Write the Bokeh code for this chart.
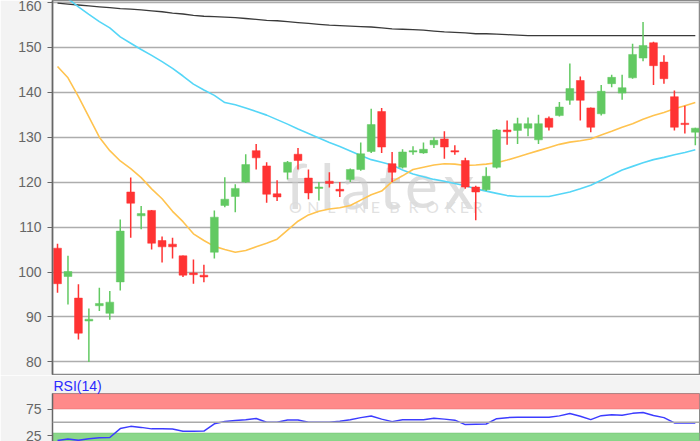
from bokeh.plotting import figure
from bokeh.layouts import column
from bokeh.models import FixedTicker, ColumnDataSource, Range1d, Span, BoxAnnotation
from bokeh.core.properties import value
from bokeh.embed import file_html
from bokeh.resources import INLINE

# ---------------- data ----------------
opens = [105.3, 99.0, 94.2, 89.1, 92.5, 90.8, 97.8, 117.8, 112.5, 113.7,
         107.0, 106.2, 103.6, 99.8, 99.3, 104.4, 114.8, 116.8, 120.0, 127.0,
         123.6, 117.4, 122.2, 126.2, 120.9, 118.6, 120.2, 118.4, 120.6, 122.8,
         126.8, 135.7, 124.1, 123.3, 126.7, 126.5, 128.3, 129.6, 127.0, 124.8,
         118.9, 118.3, 123.3, 131.6, 131.5, 132.0, 129.4, 134.2, 134.8, 138.2,
         142.6, 136.5, 135.2, 141.9, 139.8, 143.2, 147.6, 151.0, 146.7, 139.0,
         133.1, 131.1]
highs = [106.3, 103.6, 97.3, 91.9, 96.5, 95.8, 111.7, 121.0, 114.7, 113.8,
         107.9, 107.6, 103.7, 102.8, 101.6, 113.7, 121.1, 119.5, 126.2, 128.5,
         124.4, 120.4, 124.7, 127.6, 122.8, 120.0, 122.2, 120.0, 123.0, 128.8,
         136.3, 136.5, 126.7, 127.3, 128.0, 128.8, 130.0, 131.3, 128.2, 125.4,
         119.2, 123.3, 131.8, 133.7, 134.3, 134.4, 135.0, 134.6, 137.8, 146.4,
         143.5, 136.6, 141.6, 143.9, 143.9, 150.8, 155.6, 151.2, 148.2, 140.4,
         137.0, 132.1]
lows = [95.4, 92.8, 85.0, 80.0, 91.3, 89.4, 95.9, 107.6, 109.5, 105.0,
        102.1, 103.0, 98.9, 97.4, 97.7, 103.0, 114.4, 113.3, 119.8, 122.8,
        115.4, 115.8, 120.6, 122.8, 116.2, 115.9, 118.8, 116.7, 120.0, 122.5,
        126.5, 126.5, 120.0, 123.0, 126.1, 126.3, 127.6, 125.2, 126.1, 118.5,
        111.5, 118.0, 123.0, 128.3, 128.5, 130.2, 128.5, 131.5, 134.6, 137.2,
        133.7, 131.1, 134.8, 141.1, 138.3, 143.0, 146.9, 141.6, 141.9, 131.5,
        130.8, 128.2]
closes = [97.4, 100.1, 86.4, 89.5, 93.0, 93.3, 109.1, 115.3, 113.0, 106.4,
          105.6, 105.6, 99.3, 99.4, 98.9, 112.2, 116.2, 118.6, 123.9, 125.4,
          117.3, 116.7, 124.4, 124.8, 117.6, 118.9, 119.7, 118.0, 122.8, 126.3,
          132.8, 127.8, 122.2, 126.7, 127.0, 127.3, 129.3, 127.8, 126.7, 118.9,
          117.8, 121.3, 131.6, 131.2, 133.0, 133.0, 133.0, 132.2, 136.7, 140.8,
          138.2, 132.2, 140.2, 143.3, 141.0, 148.4, 150.4, 145.9, 143.0, 132.2,
          132.8, 132.0]

ma_orange = [145.7, 143.2, 139.0, 134.5, 130.0, 127.0, 124.7, 123.0, 121.0, 118.5,
             116.3, 113.5, 111.2, 108.5, 107.0, 105.7, 105.0, 104.4, 104.8, 105.6,
             106.4, 107.3, 109.3, 111.3, 112.7, 113.5, 114.0, 114.3, 114.8, 116.0,
             117.2, 118.0, 120.1, 121.4, 122.8, 123.3, 123.8, 124.1, 124.0, 123.7,
             123.8, 124.0, 124.3, 124.9, 125.6, 126.3, 127.0, 127.7, 128.4, 128.9,
             129.2, 129.6, 130.5, 131.3, 132.2, 133.0, 134.0, 134.8, 135.5, 136.3,
             137.0, 137.7]
ma_cyan = [162.4, 160.8, 159.0, 157.3, 155.7, 154.3, 152.3, 150.9, 149.5, 148.2,
           146.8, 145.3, 143.6, 141.8, 140.5, 139.3, 137.7, 137.2, 136.5, 135.7,
           134.9, 133.9, 132.9, 131.8, 130.8, 129.8, 128.8, 127.9, 126.9, 125.9,
           125.0, 124.4, 123.8, 122.7, 121.8, 121.2, 120.6, 120.2, 119.7, 119.2,
           118.5, 118.0, 117.5, 117.0, 116.8, 116.8, 116.8, 116.8, 117.3, 117.8,
           118.5, 119.3, 120.4, 121.6, 122.7, 123.5, 124.3, 125.0, 125.5, 126.1,
           126.6, 127.2]
ma_black = [159.8, 159.6, 159.4, 159.2, 159.0, 158.8, 158.6, 158.5, 158.3, 158.1,
            157.9, 157.6, 157.4, 157.1, 156.9, 156.8, 156.7, 156.6, 156.4, 156.2,
            156.0, 155.9, 155.7, 155.5, 155.3, 155.1, 154.9, 154.8, 154.7, 154.6,
            154.5, 154.3, 154.1, 154.0, 153.9, 153.8, 153.6, 153.4, 153.3, 153.2,
            153.0, 153.0, 152.9, 152.8, 152.7, 152.6, 152.6, 152.6, 152.6, 152.6,
            152.6, 152.6, 152.6, 152.6, 152.6, 152.6, 152.6, 152.6, 152.6, 152.6,
            152.6, 152.6]
rsi = [15.9, 18.8, 16.2, 19.2, 20.9, 21.5, 38.2, 42.4, 40.5, 37.7,
       37.7, 37.5, 33.2, 33.2, 33.6, 47.2, 51.5, 53.4, 55.0, 57.3,
       50.2, 50.0, 54.5, 54.3, 50.0, 50.0, 50.0, 52.2, 55.0, 58.8,
       61.9, 56.0, 51.3, 55.0, 55.0, 55.0, 57.5, 56.0, 54.1, 45.7,
       46.5, 46.8, 56.9, 58.8, 59.3, 59.3, 59.3, 59.3, 62.1, 66.6,
       61.4, 55.0, 62.5, 64.2, 63.2, 66.8, 68.5, 62.9, 58.8, 48.9,
       48.9, 48.9]

price_ticks = [80, 90, 100, 110, 120, 130, 140, 150, 160]
rsi_ticks = [25, 75]
rsi_upper = 75
rsi_mid = 50
rsi_lower = 30
rsi_title = "RSI(14)"
logo_letters = ["f", "l", "a", "t", "e", "x"]
logo_sub_letters = ["O", "N", "L", "I", "N", "E", "B", "R", "O", "K", "E", "R"]

# ---------------- styling ----------------
RED = "#ff3333"
GREEN = "#62c962"
BORDER = "#f3f3f3"
FONT = "Liberation Sans"

idx = list(range(len(opens)))
up = [c >= o for o, c in zip(opens, closes)]
colors = [GREEN if u else RED for u in up]
src = ColumnDataSource(dict(
    x=idx, o=opens, h=highs, l=lows, c=closes,
    top=[max(o, c) for o, c in zip(opens, closes)],
    bot=[min(o, c) for o, c in zip(opens, closes)],
    col=colors, mo=ma_orange, mc=ma_cyan, mb=ma_black, rsi=rsi))

W = 700
xr = Range1d(-0.48, 61.4)

p = figure(width=W, height=375, x_range=xr, y_range=Range1d(77.2, 160.4),
           output_backend="svg", toolbar_location=None,
           min_border_left=52, min_border_right=1, min_border_top=0, min_border_bottom=1)
p.xaxis.visible = False
p.xgrid.visible = False
p.background_fill_color = "white"
p.border_fill_color = BORDER
p.outline_line_color = "#8a8a8a"
p.outline_line_width = 1.5
p.yaxis.ticker = FixedTicker(ticks=price_ticks)
p.ygrid.grid_line_color = "#adadad"
p.ygrid.grid_line_width = 1.5

# watermark (logo letters placed along the x axis)
p.text(x=[22.9, 25.8, 28.6, 31.8, 34.8, 38.4], y=[119.3] * 6, text=logo_letters,
       text_font=value("Lato"), text_font_size="62px", text_color="#c9c9c9",
       text_alpha=0.6, text_align="center", text_baseline="alphabetic")
p.text(x=[22.75, 24.47, 26.19, 27.63, 28.97, 30.40, 32.22, 34.04, 35.86, 37.58, 38.92, 40.16],
       y=[114.6] * 12, text=logo_sub_letters,
       text_font=value("Lato"), text_font_size="16px", text_color="#dcdcdc",
       text_alpha=0.85, text_align="center", text_baseline="middle")

p.line("x", "mb", source=src, line_color="#3a3a3a", line_width=1.3)
p.line("x", "mc", source=src, line_color="#55d6f7", line_width=1.6)
p.line("x", "mo", source=src, line_color="#ffc34f", line_width=1.6)

p.segment(x0="x", y0="h", x1="x", y1="l", source=src, line_color="col", line_width=1.5)
p.vbar(x="x", top="top", bottom="bot", width=0.75, source=src,
       fill_color="col", line_color="col", line_width=0.5)

# RSI panel
r = figure(width=W, height=66, x_range=xr, y_range=Range1d(14, 104.1),
           output_backend="svg", toolbar_location=None,
           min_border_left=52, min_border_right=1, min_border_top=0, min_border_bottom=0)
r.title.text = rsi_title
r.title.text_color = "#2b2bff"
r.title.text_font = FONT
r.title.text_font_size = "14px"
r.title.text_font_style = "normal"
r.title.align = "left"
r.title.offset = 1
r.title.standoff = 0
r.xaxis.visible = False
r.xgrid.visible = False
r.ygrid.visible = False
r.background_fill_color = "white"
r.border_fill_color = BORDER
r.outline_line_color = "#8a8a8a"
r.yaxis.ticker = FixedTicker(ticks=rsi_ticks)

r.add_layout(BoxAnnotation(bottom=rsi_upper, fill_color="#ff8a8a", fill_alpha=1.0,
                           line_color="#e06a6a", line_width=1.5, level="underlay"))
r.add_layout(BoxAnnotation(top=rsi_lower, fill_color="#8ad78a", fill_alpha=1.0,
                           line_color="#6cc06c", line_width=1.5, level="underlay"))
r.add_layout(Span(location=rsi_mid, dimension="width", line_color="#aaaaaa", line_width=1.5))
r.line("x", "rsi", source=src, line_color="#3c3cff", line_width=1.5)

for ax in (p.yaxis[0], r.yaxis[0]):
    ax.axis_line_color = "#666666"
    ax.axis_line_width = 1.5
    ax.major_tick_line_color = "#666666"
    ax.major_tick_out = 5
    ax.major_tick_in = 0
    ax.minor_tick_line_color = None
    ax.major_label_text_color = "#666666"
    ax.major_label_text_font = FONT
    ax.major_label_text_font_size = "14px"
    ax.major_label_standoff = 6

lay = column(p, r, spacing=0)
open("out.html", "w").write(file_html(lay, INLINE))
